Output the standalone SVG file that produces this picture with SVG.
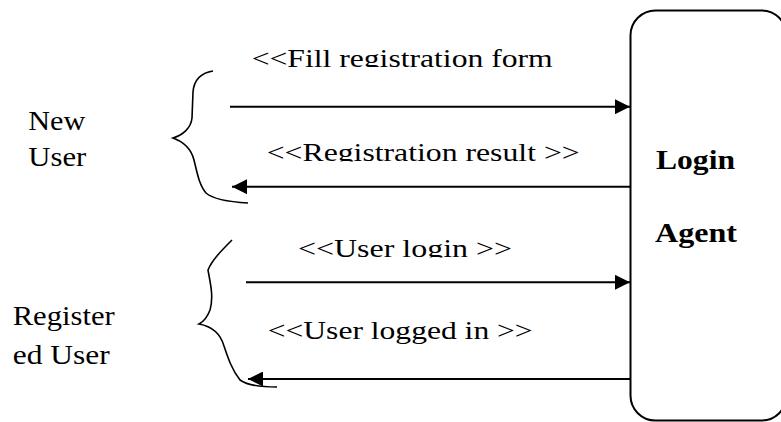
<svg xmlns="http://www.w3.org/2000/svg" width="781" height="422" viewBox="0 0 781 422">
  <style>
    .lbl { font-family: "Liberation Serif", "Times New Roman", serif; font-size: 25px; fill: #000; }
    .side { font-family: "Liberation Serif", "Times New Roman", serif; font-size: 27px; fill: #000; }
    .agent { font-family: "Liberation Serif", "Times New Roman", serif; font-size: 27px; font-weight: bold; fill: #000; }
    .edge { stroke: #000; stroke-width: 2; fill: none; }
    .brace { stroke: #000; stroke-width: 1.6; fill: none; }
  </style>
  <defs>
    <marker id="ah" viewBox="0 0 15 15" refX="15" refY="7.5" markerWidth="15" markerHeight="15" orient="auto" markerUnits="userSpaceOnUse">
      <path d="M0,0 L15,7.5 L0,15 z" fill="#000"/>
    </marker>
    <clipPath id="c1"><rect x="0" y="0" width="781" height="67"/></clipPath>
    <clipPath id="c2"><rect x="0" y="120" width="781" height="41.5"/></clipPath>
    <clipPath id="c3"><rect x="0" y="220" width="781" height="37.5"/></clipPath>
  </defs>
  <rect width="781" height="422" fill="#fff"/>

  <g id="login-agent">
    <rect x="630.5" y="10.5" width="156" height="410" rx="25" ry="25" fill="#fff" stroke="#000" stroke-width="2"/>
    <text class="agent" x="656" y="169.3" textLength="79" lengthAdjust="spacingAndGlyphs">Login</text>
    <text class="agent" x="655" y="241.7" textLength="82" lengthAdjust="spacingAndGlyphs">Agent</text>
  </g>

  <g id="new-user">
    <text class="side" x="28.3" y="130" textLength="57" lengthAdjust="spacingAndGlyphs">New</text>
    <text class="side" x="28.3" y="165.7" textLength="58" lengthAdjust="spacingAndGlyphs">User</text>
    <path class="brace" d="M213,71 C200,73 194,80 193,92 L192,118 C191,128 183,135 173,138 C184,142 191,148 194,160 C197,172 199,185 206,193 C214,200 230,202 248,203"/>
  </g>

  <g id="registered-user">
    <text class="side" x="12.7" y="325" textLength="102" lengthAdjust="spacingAndGlyphs">Register</text>
    <text class="side" x="12.7" y="364" textLength="97" lengthAdjust="spacingAndGlyphs">ed User</text>
    <path class="brace" d="M232,240 C222,250 212,260 208,270 C210,282 214,296 210,310 C207,318 203,322 199,324 C210,326 220,332 224,346 C228,358 232,370 240,380 C248,386 262,387 277,387"/>
  </g>

  <g id="connectors">
    <line class="edge" x1="230" y1="106.7" x2="630" y2="106.7" marker-end="url(#ah)"/>
    <line class="edge" x1="630" y1="186.7" x2="232" y2="186.7" marker-end="url(#ah)"/>
    <line class="edge" x1="246" y1="282.3" x2="630" y2="282.3" marker-end="url(#ah)"/>
    <line class="edge" x1="630" y1="379" x2="248" y2="379" marker-end="url(#ah)"/>
    <text class="lbl" x="251.7" y="66.5" textLength="301" lengthAdjust="spacingAndGlyphs" clip-path="url(#c1)">&lt;&lt;Fill registration form</text>
    <text class="lbl" x="266.7" y="161" textLength="313" lengthAdjust="spacingAndGlyphs" clip-path="url(#c2)">&lt;&lt;Registration result &gt;&gt;</text>
    <text class="lbl" x="298" y="257" textLength="214" lengthAdjust="spacingAndGlyphs" clip-path="url(#c3)">&lt;&lt;User login &gt;&gt;</text>
    <text class="lbl" x="267.7" y="339.3" textLength="265" lengthAdjust="spacingAndGlyphs">&lt;&lt;User logged in &gt;&gt;</text>
  </g>
</svg>
